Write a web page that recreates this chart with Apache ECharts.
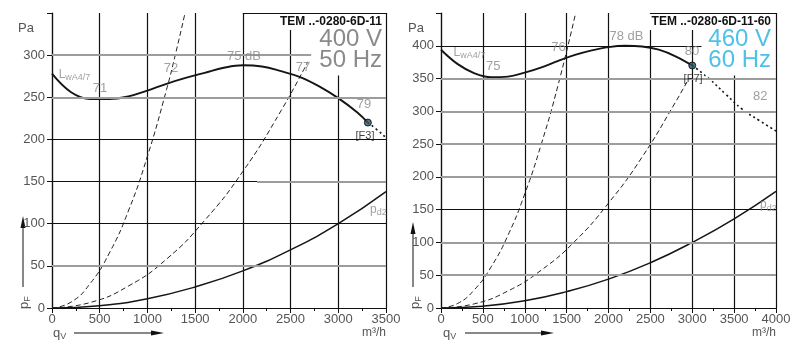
<!DOCTYPE html>
<html><head><meta charset="utf-8">
<script src="https://cdn.jsdelivr.net/npm/echarts@6/dist/echarts.min.js"></script>
<style>html,body{margin:0;padding:0;background:#fff}#c{width:798px;height:358px}</style>
</head><body><div id="c"></div>
<script>
// ---- Data ----
// Left chart: TEM ..-0280-6D-11, 400 V 50 Hz
const L_xTicks = [0,500,1000,1500,2000,2500,3000,3500];
const L_yTicks = [0,50,100,150,200,250,300];
const L_fan = [[0,278],[200,256],[400,248],[600,248],[800,251],[1000,258],[1200,266],[1400,273],[1600,279],[1800,285],[2000,288],[2200,286.5],[2400,281],[2600,274],[2800,263],[3000,249],[3200,232],[3310,220]];
const L_fanExt = [[3310,220],[3400,212],[3500,202]];
const L_sys1 = [[0,0],[200,7],[400,29],[600,65],[800,115],[1000,180],[1200,259],[1300,304],[1394,350]];
const L_sys2 = [[0,0],[400,6.5],[800,26],[1200,58],[1600,104],[2000,162],[2400,234],[2680,292]];
const L_pd2 = [[0,0],[500,2.8],[1000,11],[1500,25],[2000,44],[2500,69],[3000,100],[3500,138]];
const L_notes = [[503,260,'71'],[1247,284,'72'],[2012,299,'75 dB'],[2630,285,'77'],[3270,241,'79']];
const L_op = [[3310,220]];

// Right chart: TEM ..-0280-6D-11-60, 460 V 60 Hz
const R_xTicks = [0,500,1000,1500,2000,2500,3000,3500,4000];
const R_yTicks = [0,50,100,150,200,250,300,350,400];
const R_fan = [[0,394],[200,372],[400,358],[600,352],[800,353],[1000,359],[1200,367],[1400,377],[1600,386],[1800,393],[2000,398],[2200,400],[2400,399],[2600,394],[2800,384],[3000,370]];
const R_fanExt = [[3000,370],[3200,350],[3400,326],[3600,303],[3800,286],[4000,270]];
const R_sys1 = [[0,0],[200,7],[400,28],[600,63],[800,111],[1000,174],[1200,251],[1400,341],[1608,450]];
const R_sys2 = [[0,0],[400,6.4],[800,26],[1200,58],[1600,102],[2000,160],[2400,230],[2800,314],[2950,348]];
const R_pd2 = [[0,0],[500,2.8],[1000,11],[1500,25],[2000,44],[2500,69],[3000,100],[3500,136],[4000,178]];
const R_notes = [[623,368,'75'],[1403,398,'76'],[2214,415,'78 dB'],[2998,392,'80'],[3813,322,'82']];
const R_op = [[3000,370]];

// ---- Styling ----
const FONT = 'Liberation Sans, Arial, sans-serif';
const GRAY = '#9c9c9c', BLACK = '#111';
const chart = echarts.init(document.getElementById('c'), null, {renderer:'canvas'});

function xAxis(idx, max){
  return {gridIndex: idx, type:'value', min:0, max:max, interval:500,
    axisLine:{show:true, onZero:false, lineStyle:{color:BLACK, width:1.2}},
    axisTick:{show:true, length:5, lineStyle:{color:BLACK}},
    minorTick:{show:true, splitNumber:2, length:3, lineStyle:{color:BLACK}},
    minorSplitLine:{show:false},
    splitLine:{show:true, showMinLine:true, showMaxLine:true, lineStyle:{color:BLACK, width:1.2}},
    axisLabel:{color:'#555', fontSize:13, fontFamily:FONT, margin:5, formatter: v => String(v)}};
}
function yAxis(idx, max){
  return {gridIndex: idx, type:'value', min:0, max:max, interval:50,
    axisLine:{show:true, onZero:false, lineStyle:{color:BLACK, width:1.2}},
    axisTick:{show:true, length:5, lineStyle:{color:BLACK}},
    splitLine:{show:false},
    axisLabel:{color:'#555', fontSize:13, fontFamily:FONT, margin:7,
      formatter: v => v >= max ? '' : String(v)}};
}
function hline(y, x0, x1, color, w){
  return [{coord:[x0,y], lineStyle:{color:color, width:w, type:'solid'}},{coord:[x1,y]}];
}
function gridLines(idx, lines){
  return {type:'line', xAxisIndex:idx, yAxisIndex:idx, data:[], silent:true, z:1,
    markLine:{silent:true, symbol:'none', label:{show:false}, animation:false, data: lines}};
}
function line(idx, data, opts, sm){
  return Object.assign({type:'line', xAxisIndex:idx, yAxisIndex:idx, data:data, showSymbol:false, symbol:'none',
    smooth:sm === undefined ? 0.5 : sm, animation:false, silent:true, z:3}, opts);
}
function notes(idx, data, color, size){
  return {type:'scatter', xAxisIndex:idx, yAxisIndex:idx, symbolSize:0, silent:true, animation:false, z:5,
    data: data.map(d=>({value:[d[0],d[1]], name:d[2]})),
    label:{show:true, position:'inside', formatter:p=>p.name, color:color, fontSize:size, fontFamily:FONT}};
}
const solid = w => ({lineStyle:{color:'#151515', width:w, type:'solid'}});
const dashed = {lineStyle:{color:'#222', width:1, type:[5,3]}};
const dotted = {lineStyle:{color:'#151515', width:1.6, type:[2,3]}};
const opPoint = (idx, d) => ({type:'scatter', xAxisIndex:idx, yAxisIndex:idx, data:d, symbol:'circle', symbolSize:7,
  itemStyle:{color:'#2e5566', borderColor:'#000', borderWidth:1}, z:6, silent:true, animation:false});
const subRich = {base:{color:'#888', fontSize:12, fontFamily:FONT}, sub:{color:'#888', fontSize:9, fontFamily:FONT, padding:[6,0,0,0]}};

chart.setOption({
  animation:false,
  grid:[{left:52, top:13, width:334, height:295},{left:441, top:13, width:335, height:295}],
  xAxis:[xAxis(0,3500), xAxis(1,4000)],
  yAxis:[yAxis(0,350), yAxis(1,450)],
  title:[
    {text:'TEM ..-0280-6D-11', right:413, top:14, padding:[2,3,2,30], backgroundColor:'#fff',
     textStyle:{fontSize:12, fontWeight:'bold', color:'#111', fontFamily:FONT}},
    {text:'400 V\n50 Hz', right:413, top:29, padding:[0,3,3,8], backgroundColor:'#fff',
     textStyle:{fontSize:24, fontWeight:'normal', color:'#8a8a8a', fontFamily:FONT, lineHeight:21}},
    {text:'TEM ..-0280-6D-11-60', right:23, top:14, padding:[2,4,2,8], backgroundColor:'#fff',
     textStyle:{fontSize:12, fontWeight:'bold', color:'#111', fontFamily:FONT}},
    {text:'460 V\n60 Hz', right:23, top:29, padding:[0,4,3,3], backgroundColor:'#fff',
     textStyle:{fontSize:24, fontWeight:'normal', color:'#4fc0e8', fontFamily:FONT, lineHeight:21}}
  ],
  series:[
    gridLines(0, [hline(50,0,3500,GRAY,1.8), hline(100,0,3500,BLACK,1.2), hline(150,0,2150,BLACK,1.2), hline(150,2150,3500,GRAY,1.8),
      hline(200,0,3500,BLACK,1.2), hline(250,0,3500,GRAY,2.2), hline(300,0,2720,GRAY,1.8), hline(350,2000,3500,BLACK,1.2)]),
    gridLines(1, [hline(50,0,4000,GRAY,1.8), hline(100,0,4000,GRAY,1.8), hline(150,0,4000,BLACK,1.2), hline(200,0,4000,GRAY,1.8),
      hline(250,0,4000,GRAY,1.8), hline(300,0,4000,GRAY,1.8), hline(350,0,4000,GRAY,1.8), hline(400,0,3110,BLACK,1.2), hline(450,2500,4000,BLACK,1.2)]),
    line(0, L_pd2, solid(1.5)),
    line(0, L_sys1, dashed),
    line(0, L_sys2, dashed),
    line(0, L_fan, solid(1.9), 0.4),
    line(0, L_fanExt, dotted),
    opPoint(0, L_op),
    notes(0, L_notes, '#888', 13),
    notes(0, [[3280,204,'[F3]']], '#111', 11),
    {type:'scatter', xAxisIndex:0, yAxisIndex:0, symbolSize:0, silent:true, z:5, data:[[70,277]],
     label:{show:true, position:'right', distance:0, formatter:'{base|L}{sub|wA4/7}', rich:subRich}},
    {type:'scatter', xAxisIndex:0, yAxisIndex:0, symbolSize:0, silent:true, z:5, data:[[3420,117]],
     label:{show:true, position:'inside', formatter:'{base|p}{sub|d2}', rich:subRich}},
    line(1, R_pd2, solid(1.5)),
    line(1, R_sys1, dashed),
    line(1, R_sys2, dashed),
    line(1, R_fan, solid(1.9), 0.4),
    line(1, R_fanExt, dotted),
    opPoint(1, R_op),
    notes(1, R_notes, '#888', 13),
    notes(1, [[3010,349,'[F7]']], '#111', 11),
    {type:'scatter', xAxisIndex:1, yAxisIndex:1, symbolSize:0, silent:true, z:5, data:[[150,390]],
     label:{show:true, position:'right', distance:0, formatter:'{base|L}{sub|wA4/7}', rich:subRich}},
    {type:'scatter', xAxisIndex:1, yAxisIndex:1, symbolSize:0, silent:true, z:5, data:[[3909,157]],
     label:{show:true, position:'inside', formatter:'{base|p}{sub|d2}', rich:subRich}}
  ],
  graphic:[
    {type:'text', left:18, top:22, style:{text:'Pa', fill:'#555', font:'13px '+FONT}},
    {type:'text', left:408, top:22, style:{text:'Pa', fill:'#555', font:'13px '+FONT}},
    {type:'text', right:798-386, top:327, style:{text:'m³/h', fill:'#555', font:'12px '+FONT}},
    {type:'text', right:798-776, top:327, style:{text:'m³/h', fill:'#555', font:'12px '+FONT}},
    {type:'text', x:53, y:326, style:{text:'{b|q}{s|V}', rich:{b:{fill:'#555', fontSize:13, fontFamily:FONT}, s:{fill:'#555', fontSize:9, fontFamily:FONT, padding:[6,0,0,0]}}}},
    {type:'text', x:443, y:326, style:{text:'{b|q}{s|V}', rich:{b:{fill:'#555', fontSize:13, fontFamily:FONT}, s:{fill:'#555', fontSize:9, fontFamily:FONT, padding:[6,0,0,0]}}}},
    {type:'text', x:17, y:309, rotation:Math.PI/2, style:{text:'{b|p}{s|F}', rich:{b:{fill:'#555', fontSize:13, fontFamily:FONT}, s:{fill:'#555', fontSize:9, fontFamily:FONT, padding:[6,0,0,0]}}}},
    {type:'text', x:408, y:309, rotation:Math.PI/2, style:{text:'{b|p}{s|F}', rich:{b:{fill:'#555', fontSize:13, fontFamily:FONT}, s:{fill:'#555', fontSize:9, fontFamily:FONT, padding:[6,0,0,0]}}}},
    {type:'line', shape:{x1:23, y1:287, x2:23, y2:226}, style:{stroke:'#111', lineWidth:1}},
    {type:'polygon', shape:{points:[[23,216],[20.5,228],[25.5,228]]}, style:{fill:'#111'}},
    {type:'line', shape:{x1:413, y1:287, x2:413, y2:232}, style:{stroke:'#111', lineWidth:1}},
    {type:'polygon', shape:{points:[[413,222],[410.5,234],[415.5,234]]}, style:{fill:'#111'}},
    {type:'line', shape:{x1:74, y1:333, x2:153, y2:333}, style:{stroke:'#111', lineWidth:1}},
    {type:'polygon', shape:{points:[[164,333],[151,330.5],[151,335.5]]}, style:{fill:'#111'}},
    {type:'line', shape:{x1:465, y1:333, x2:543, y2:333}, style:{stroke:'#111', lineWidth:1}},
    {type:'polygon', shape:{points:[[554,333],[541,330.5],[541,335.5]]}, style:{fill:'#111'}}
  ]
});
</script></body></html>
